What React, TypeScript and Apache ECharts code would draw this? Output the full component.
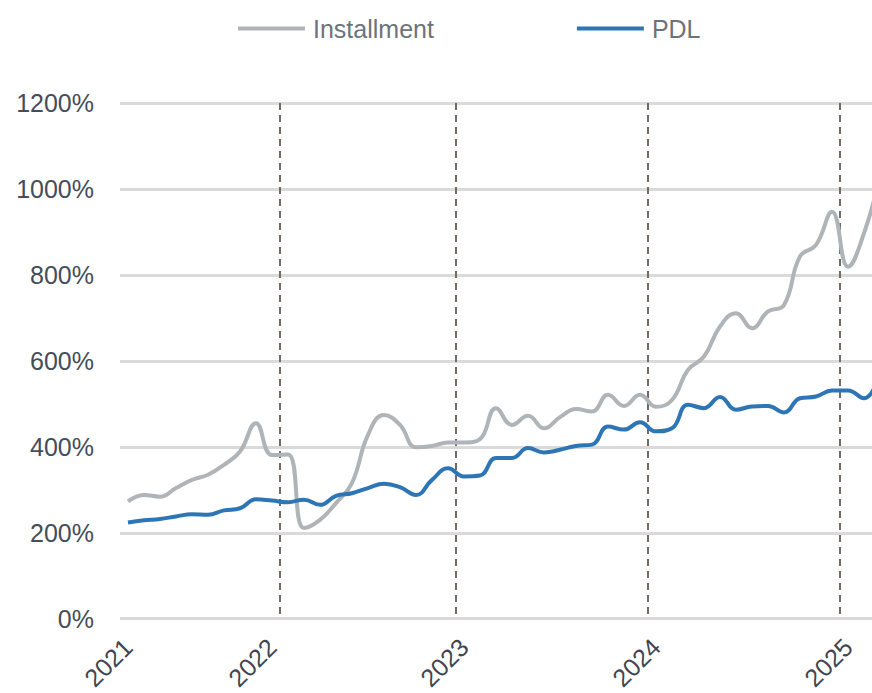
import React, { useEffect, useRef } from "react";
import * as echarts from "echarts";

// 48 monthly periods (index 0 = first month shown, last one runs past the right edge)
const categories: string[] = [
  "m01", "m02", "m03", "m04", "m05", "m06", "m07", "m08", "m09", "m10",
  "m11", "m12", "m13", "m14", "m15", "m16", "m17", "m18", "m19", "m20",
  "m21", "m22", "m23", "m24", "m25", "m26", "m27", "m28", "m29", "m30",
  "m31", "m32", "m33", "m34", "m35", "m36", "m37", "m38", "m39", "m40",
  "m41", "m42", "m43", "m44", "m45", "m46", "m47", "m48",
];

const installment: number[] = [
  273, 288, 284, 304, 323, 335, 358, 389, 455, 381,
  382, 211, 230, 269, 316, 428, 474, 451, 399, 402,
  410, 410, 418, 490, 451, 472, 443, 469, 488, 482,
  521, 495, 521, 493, 509, 579, 610, 680, 711, 676,
  715, 730, 843, 870, 947, 819, 897, 1030,
];

const pdl: number[] = [
  224, 229, 232, 238, 243, 242, 252, 257, 278, 275,
  271, 277, 265, 286, 292, 304, 314, 306, 288, 323,
  350, 331, 333, 374, 374, 397, 387, 393, 402, 405,
  447, 440, 457, 436, 443, 498, 490, 516, 486, 494,
  495, 480, 513, 517, 531, 531, 513, 570,
];

// year labels (at category index) and year boundaries (dashed lines at band edge index)
const yearLabelIndex: number[] = [0, 9, 21, 33, 45];
const yearLabels: string[] = ["2021", "2022", "2023", "2024", "2025"];
const yearBoundaryIndex: number[] = [10, 21, 33, 45];

const yTicks = { min: 0, max: 1200, interval: 200 };

const FONT = "'Liberation Sans', Arial, sans-serif";

export default function App() {
  const ref = useRef<HTMLDivElement>(null);
  useEffect(() => {
    if (!ref.current) return;
    const chart = echarts.init(ref.current, undefined, { renderer: "svg" });
    chart.setOption({
      animation: false,
      legend: {
        left: 238,
        top: 16,
        padding: 0,
        itemWidth: 67,
        itemHeight: 4,
        itemGap: 143,
        icon: "rect",
        textStyle: { fontFamily: FONT, fontSize: 25, color: "#6d737b", padding: [0, 0, 0, 3] },
        data: ["Installment", "PDL"],
      },
      grid: { left: 120, right: 0, top: 103, bottom: 74, containLabel: false },
      xAxis: {
        type: "category",
        data: categories,
        boundaryGap: true,
        axisLine: { show: false },
        axisTick: { show: false },
        axisLabel: {
          rotate: 45,
          margin: 24,
          fontFamily: FONT,
          fontSize: 25,
          color: "#3d4653",
          interval: (i: number) => yearLabelIndex.includes(i),
          formatter: (_v: string, i: number) => {
            const k = yearLabelIndex.indexOf(i);
            return k >= 0 ? yearLabels[k] : "";
          },
        },
        splitLine: {
          show: true,
          interval: (i: number) => yearBoundaryIndex.includes(i),
          lineStyle: { color: "#736a65", width: 2, type: [7, 5] },
        },
      },
      yAxis: {
        type: "value",
        min: yTicks.min,
        max: yTicks.max,
        interval: yTicks.interval,
        axisLine: { show: false },
        axisTick: { show: false },
        axisLabel: {
          formatter: (v: number) => `${v}%`,
          margin: 26,
          fontFamily: FONT,
          fontSize: 25,
          color: "#454d58",
        },
        splitLine: { lineStyle: { color: "#dadada", width: 3 } },
      },
      series: [
        {
          name: "Installment",
          type: "line",
          data: installment,
          smooth: 0.45,
          showSymbol: false,
          symbol: "none",
          lineStyle: { color: "#afb4b9", width: 4 },
          itemStyle: { color: "#afb4b9" },
        },
        {
          name: "PDL",
          type: "line",
          data: pdl,
          smooth: 0.45,
          showSymbol: false,
          symbol: "none",
          lineStyle: { color: "#2e75b6", width: 4 },
          itemStyle: { color: "#2e75b6" },
        },
      ],
    });
    return () => chart.dispose();
  }, []);
  return (
    <div
      style={{ position: "fixed", left: 0, top: 0, width: 872, height: 693, overflow: "hidden", background: "#fff" }}
    >
      <div ref={ref} style={{ width: 888, height: 693 }} />
    </div>
  );
}
